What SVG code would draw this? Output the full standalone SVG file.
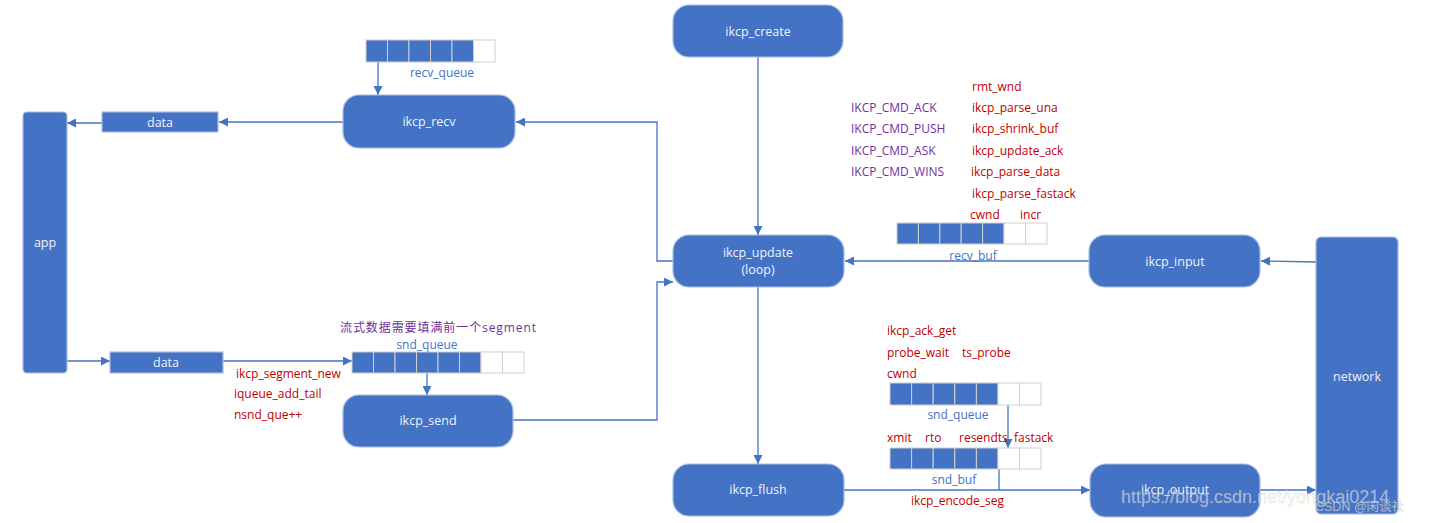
<svg xmlns="http://www.w3.org/2000/svg" width="1430" height="523" viewBox="0 0 1430 523">
<defs>
<style>
.node{fill:#4472c4;stroke:#a9bde3;stroke-width:1.2}
.nt{font-family:"Open Sans","Noto Sans",sans-serif;font-size:12.5px;fill:#eef2fa;text-anchor:middle}
.ln{fill:none;stroke:#4472c4;stroke-width:1.3}
.red{font-family:"Open Sans","Noto Sans",sans-serif;font-size:12px;fill:#c00000}
.pur{font-family:"Open Sans","Noto Sans","Noto Sans CJK SC",sans-serif;font-size:12px;fill:#7030a0}
.blu{font-family:"Open Sans","Noto Sans",sans-serif;font-size:12px;fill:#4472c4;text-anchor:middle}
.cf{fill:#4472c4;stroke:#d0d0d0;stroke-width:1}
.ce{fill:#ffffff;stroke:#d0d0d0;stroke-width:1}
.wm{font-family:"Liberation Sans","Noto Sans CJK SC",sans-serif;fill:#ffffff;fill-opacity:0.55;stroke:#999;stroke-opacity:0.4;stroke-width:0.5}
</style>
<marker id="ah" viewBox="0 0 10 10" refX="10" refY="5" markerWidth="9" markerHeight="9" markerUnits="userSpaceOnUse" orient="auto">
<path d="M0,0 L10,5 L0,10 z" fill="#4472c4"/>
</marker>
</defs>
<rect width="1430" height="523" fill="#ffffff"/>

<g id="connectors">
<line class="ln" x1="758" y1="57" x2="758" y2="235" marker-end="url(#ah)"/>
<line class="ln" x1="758" y1="287" x2="758" y2="464" marker-end="url(#ah)"/>
<polyline class="ln" points="673,261 657,261 657,122 516,122" marker-end="url(#ah)"/>
<polyline class="ln" points="513,420 657,420 657,282 673,282" marker-end="url(#ah)"/>
<line class="ln" x1="343" y1="122" x2="219" y2="122" marker-end="url(#ah)"/>
<line class="ln" x1="102" y1="123" x2="67" y2="123" marker-end="url(#ah)"/>
<line class="ln" x1="67" y1="361" x2="110" y2="361" marker-end="url(#ah)"/>
<line class="ln" x1="223" y1="361" x2="352" y2="361" marker-end="url(#ah)"/>
<line class="ln" x1="378" y1="62" x2="378" y2="95" marker-end="url(#ah)"/>
<line class="ln" x1="427" y1="373" x2="427" y2="395" marker-end="url(#ah)"/>
<line class="ln" x1="1089" y1="261" x2="845" y2="261" marker-end="url(#ah)"/>
<line class="ln" x1="1316" y1="262" x2="1261" y2="261" marker-end="url(#ah)"/>
<line class="ln" x1="844" y1="490" x2="1090" y2="490" marker-end="url(#ah)"/>
<line class="ln" x1="1260" y1="490" x2="1316" y2="490" marker-end="url(#ah)"/>
<line class="ln" x1="1008" y1="405" x2="1008" y2="448" marker-end="url(#ah)"/>
<line class="ln" x1="999" y1="469" x2="999" y2="490"/>
</g>

<g id="app"><rect class="node" x="23" y="112" width="44" height="261" rx="4"/><text class="nt" x="45" y="247">app</text></g>
<g id="network"><rect class="node" x="1316" y="237" width="82" height="277" rx="5"/><text class="nt" x="1357" y="381">network</text></g>
<g id="data_top"><rect class="node" x="102" y="112" width="116" height="20"/><text class="nt" x="160" y="127">data</text></g>
<g id="data_bottom"><rect class="node" x="110" y="352" width="113" height="21"/><text class="nt" x="166" y="367">data</text></g>

<g id="ikcp_create"><rect class="node" x="673" y="5" width="170" height="52" rx="16"/><text class="nt" x="758" y="36">ikcp_create</text></g>
<g id="ikcp_recv"><rect class="node" x="343" y="95" width="172" height="53" rx="16"/><text class="nt" x="429" y="126">ikcp_recv</text></g>
<g id="ikcp_update"><rect class="node" x="673" y="235" width="171" height="52" rx="16"/><text class="nt" x="758" y="257">ikcp_update</text><text class="nt" x="758" y="274">(loop)</text></g>
<g id="ikcp_send"><rect class="node" x="343" y="395" width="170" height="52" rx="16"/><text class="nt" x="428" y="425">ikcp_send</text></g>
<g id="ikcp_flush"><rect class="node" x="673" y="464" width="171" height="52" rx="16"/><text class="nt" x="758" y="494">ikcp_flush</text></g>
<g id="ikcp_input"><rect class="node" x="1089" y="235" width="171" height="52" rx="16"/><text class="nt" x="1175" y="266">ikcp_input</text></g>
<g id="ikcp_output"><rect class="node" x="1090" y="464" width="170" height="53" rx="16"/><text class="nt" x="1175" y="494">ikcp_output</text></g>

<g id="recv_queue">
<rect class="cf" x="366" y="40" width="21.5" height="22"/><rect class="cf" x="387.5" y="40" width="21.5" height="22"/><rect class="cf" x="409" y="40" width="21.5" height="22"/><rect class="cf" x="430.5" y="40" width="21.5" height="22"/><rect class="cf" x="452" y="40" width="21.5" height="22"/><rect class="ce" x="473.5" y="40" width="21.5" height="22"/>
<text class="blu" x="442" y="77">recv_queue</text>
</g>

<g id="snd_queue_left">
<rect class="cf" x="352" y="352" width="21.5" height="21"/><rect class="cf" x="373.5" y="352" width="21.5" height="21"/><rect class="cf" x="395" y="352" width="21.5" height="21"/><rect class="cf" x="416.5" y="352" width="21.5" height="21"/><rect class="cf" x="438" y="352" width="21.5" height="21"/><rect class="cf" x="459.5" y="352" width="21.5" height="21"/><rect class="ce" x="481" y="352" width="21.5" height="21"/><rect class="ce" x="502.5" y="352" width="21.5" height="21"/>
<text class="blu" x="427" y="349">snd_queue</text>
<text class="pur" x="340" y="332" font-size="13.2" textLength="196">流式数据需要填满前一个segment</text>
</g>

<g id="send_labels">
<text class="red" x="236" y="378">ikcp_segment_new</text>
<text class="red" x="234" y="398">iqueue_add_tail</text>
<text class="red" x="234" y="419">nsnd_que++</text>
</g>

<g id="cmd_labels">
<text class="pur" x="851" y="112">IKCP_CMD_ACK</text>
<text class="pur" x="851" y="133">IKCP_CMD_PUSH</text>
<text class="pur" x="851" y="155">IKCP_CMD_ASK</text>
<text class="pur" x="851" y="176">IKCP_CMD_WINS</text>
<text class="red" x="972" y="91">rmt_wnd</text>
<text class="red" x="972" y="112">ikcp_parse_una</text>
<text class="red" x="972" y="133">ikcp_shrink_buf</text>
<text class="red" x="972" y="155">ikcp_update_ack</text>
<text class="red" x="971" y="176">ikcp_parse_data</text>
<text class="red" x="972" y="198">ikcp_parse_fastack</text>
<text class="red" x="970" y="219">cwnd</text>
<text class="red" x="1020" y="219">incr</text>
</g>

<g id="recv_buf">
<rect class="cf" x="897" y="223" width="21.4" height="21"/><rect class="cf" x="918.4" y="223" width="21.4" height="21"/><rect class="cf" x="939.8" y="223" width="21.4" height="21"/><rect class="cf" x="961.2" y="223" width="21.4" height="21"/><rect class="cf" x="982.6" y="223" width="21.4" height="21"/><rect class="ce" x="1004" y="223" width="21.5" height="21"/><rect class="ce" x="1025.5" y="223" width="21.5" height="21"/>
<text class="blu" x="973" y="260">recv_buf</text>
</g>

<g id="snd_queue_right">
<text class="red" x="887" y="335">ikcp_ack_get</text>
<text class="red" x="887" y="357">probe_wait</text>
<text class="red" x="962" y="357">ts_probe</text>
<text class="red" x="887" y="378">cwnd</text>
<rect class="cf" x="890" y="383" width="21.6" height="22"/><rect class="cf" x="911.6" y="383" width="21.6" height="22"/><rect class="cf" x="933.2" y="383" width="21.6" height="22"/><rect class="cf" x="954.8" y="383" width="21.6" height="22"/><rect class="cf" x="976.4" y="383" width="21.6" height="22"/><rect class="ce" x="998" y="383" width="21.5" height="22"/><rect class="ce" x="1019.5" y="383" width="21.5" height="22"/>
<text class="blu" x="958" y="419">snd_queue</text>
</g>

<g id="snd_buf">
<text class="red" x="887" y="442">xmit</text>
<text class="red" x="925" y="442">rto</text>
<text class="red" x="959" y="442">resendts</text>
<text class="red" x="1014" y="442">fastack</text>
<rect class="cf" x="890" y="448" width="21.6" height="21"/><rect class="cf" x="911.6" y="448" width="21.6" height="21"/><rect class="cf" x="933.2" y="448" width="21.6" height="21"/><rect class="cf" x="954.8" y="448" width="21.6" height="21"/><rect class="cf" x="976.4" y="448" width="21.6" height="21"/><rect class="ce" x="998" y="448" width="21.5" height="21"/><rect class="ce" x="1019.5" y="448" width="21.5" height="21"/>
<text class="blu" x="954" y="484">snd_buf</text>
<text class="red" x="911" y="505">ikcp_encode_seg</text>
</g>

<g id="watermark">
<text class="wm" x="1121" y="503" font-size="18">https://blog.csdn.net/yongkai0214</text>
<text class="wm" x="1315" y="511" font-size="12.5">CSDN @闲谈社</text>
</g>
</svg>
